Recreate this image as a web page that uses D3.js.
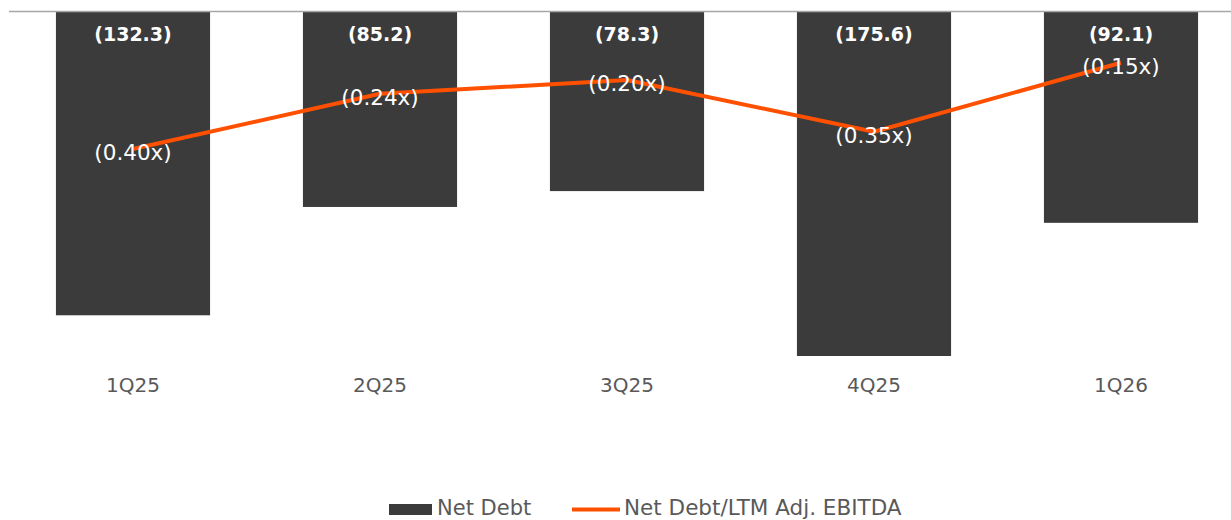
<!DOCTYPE html>
<html><head><meta charset="utf-8">
<script src="https://cdn.jsdelivr.net/npm/d3@7"></script>
<style>body{margin:0;background:#fff}svg{display:block}</style>
</head><body>
<svg id="c" width="1231" height="520"></svg>
<script>
const categories = ["1Q25","2Q25","3Q25","4Q25","1Q26"];
const netDebt = [-132.3, -85.2, -78.3, -175.6, -92.1];
const netDebtLabels = ["(132.3)","(85.2)","(78.3)","(175.6)","(92.1)"];
const leverage = [-0.40, -0.24, -0.20, -0.35, -0.15];
const leverageLabels = ["(0.40x)","(0.24x)","(0.20x)","(0.35x)","(0.15x)"];
const legendLabels = ["Net Debt","Net Debt/LTM Adj. EBITDA"];

const svg = d3.select("#c");
const font = "DejaVu Sans, Verdana, sans-serif";
const plotTop = 11, plotBottom = 356;
const x = d3.scaleBand().domain(categories).range([9.5, 1244.5]).paddingInner(0.376).paddingOuter(0.188);
const y = d3.scaleLinear().domain([-150, 0]).range([plotBottom, plotTop]).clamp(true);
const y2 = d3.scaleLinear().domain([-1, 0]).range([plotBottom, plotTop]);

// bars
svg.append("g").selectAll("rect").data(netDebt).join("rect")
  .attr("x", (d,i)=>x(categories[i]))
  .attr("width", x.bandwidth())
  .attr("y", y(0))
  .attr("height", d=>y(d)-y(0))
  .attr("fill", "#3b3b3b");

// top axis line
svg.append("line").attr("x1", 9).attr("x2", 1231).attr("y1", plotTop+0.5).attr("y2", plotTop+0.5)
  .attr("stroke", "#a6a6a6").attr("stroke-width", 1.5);

// bar labels
svg.append("g").selectAll("text").data(netDebtLabels).join("text")
  .attr("x", (d,i)=>x(categories[i]) + x.bandwidth()/2)
  .attr("y", 41)
  .attr("text-anchor", "middle")
  .attr("font-family", font).attr("font-weight", "bold").attr("font-size", 19)
  .attr("fill", "#ffffff")
  .text(d=>d);

// line
const line = d3.line().x((d,i)=>x(categories[i]) + x.bandwidth()/2).y(d=>y2(d));
svg.append("path").datum(leverage).attr("d", line)
  .attr("fill", "none").attr("stroke", "#ff5000").attr("stroke-width", 4).attr("stroke-linejoin","round");

// line labels
svg.append("g").selectAll("text").data(leverage).join("text")
  .attr("x", (d,i)=>x(categories[i]) + x.bandwidth()/2)
  .attr("y", d=>y2(d) + 11)
  .attr("text-anchor", "middle")
  .attr("font-family", font).attr("font-size", 21.5)
  .attr("fill", "#ffffff")
  .text((d,i)=>leverageLabels[i]);

// category axis labels
const xAxis = d3.axisBottom(x).tickSize(0).tickPadding(0);
const gx = svg.append("g").attr("transform", `translate(0,${plotBottom})`).call(xAxis);
gx.select(".domain").remove();
gx.selectAll("text").attr("y", 36).attr("dy", 0)
  .attr("font-family", font).attr("font-size", 20).attr("fill", "#595959");

// legend
const lg = svg.append("g");
lg.append("rect").attr("x", 389).attr("y", 504).attr("width", 43).attr("height", 11).attr("fill", "#3b3b3b");
lg.append("text").attr("x", 437).attr("y", 514.5).attr("font-family", font).attr("font-size", 21)
  .attr("fill", "#595959").text(legendLabels[0]);
lg.append("line").attr("x1", 572).attr("x2", 620).attr("y1", 509.5).attr("y2", 509.5)
  .attr("stroke", "#ff5000").attr("stroke-width", 4);
lg.append("text").attr("x", 624).attr("y", 514.5).attr("font-family", font).attr("font-size", 21.5)
  .attr("fill", "#595959").text(legendLabels[1]);
</script>
</body></html>
